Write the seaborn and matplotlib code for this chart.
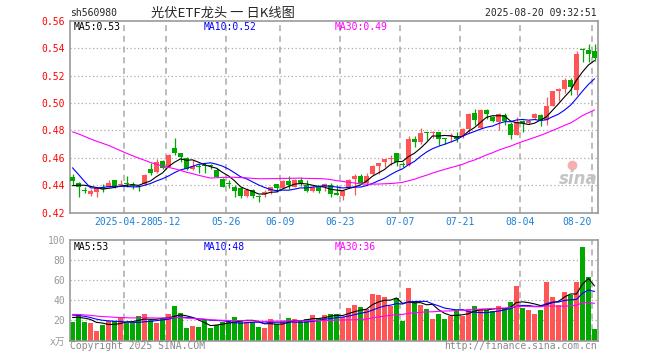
import numpy as np
import pandas as pd
import matplotlib
matplotlib.use("Agg")
import matplotlib.pyplot as plt
import seaborn as sns

# trading days 2025-04-15 .. 2025-08-20 (labour day / dragon boat holidays removed)
holidays = ["2025-05-01", "2025-05-02", "2025-05-05", "2025-06-02"]
dates = pd.bdate_range("2025-04-15", "2025-08-20")
dates = dates[~dates.isin(pd.to_datetime(holidays))]

open_ = [0.4458, 0.4414, 0.4362, 0.4336, 0.4353, 0.4389, 0.4389, 0.4438, 0.4404, 0.4414,
         0.4399, 0.4394, 0.4409, 0.4516, 0.4499, 0.4577, 0.4536, 0.4670, 0.4633, 0.4602,
         0.4519, 0.4540, 0.4545, 0.4545, 0.4511, 0.4443, 0.4414, 0.4389, 0.4382, 0.4321,
         0.4365, 0.4316, 0.4336, 0.4360, 0.4409, 0.4377, 0.4431, 0.4389, 0.4438, 0.4401,
         0.4360, 0.4384, 0.4384, 0.4401, 0.4336, 0.4321, 0.4389, 0.4445, 0.4467, 0.4414,
         0.4482, 0.4541, 0.4572, 0.4592, 0.4633, 0.4553, 0.4548, 0.4738, 0.4712, 0.4785,
         0.4780, 0.4787, 0.4738, 0.4756, 0.4760, 0.4756, 0.4809, 0.4926, 0.4817, 0.4946,
         0.4895, 0.4865, 0.4914, 0.4848, 0.4768, 0.4870, 0.4851, 0.4890, 0.4914, 0.4878,
         0.4980, 0.5085, 0.5105, 0.5171, 0.5097, 0.5390, 0.5386, 0.5383]
high = [0.4480, 0.4426, 0.4389, 0.4370, 0.4389, 0.4409, 0.4438, 0.4440, 0.4438, 0.4467,
        0.4421, 0.4404, 0.4482, 0.4560, 0.4590, 0.4585, 0.4626, 0.4743, 0.4638, 0.4609,
        0.4585, 0.4555, 0.4565, 0.4555, 0.4524, 0.4453, 0.4438, 0.4401, 0.4389, 0.4377,
        0.4370, 0.4328, 0.4365, 0.4389, 0.4409, 0.4438, 0.4467, 0.4443, 0.4458, 0.4438,
        0.4392, 0.4389, 0.4419, 0.4419, 0.4401, 0.4365, 0.4443, 0.4482, 0.4482, 0.4487,
        0.4548, 0.4565, 0.4592, 0.4621, 0.4638, 0.4572, 0.4760, 0.4760, 0.4817, 0.4792,
        0.4797, 0.4792, 0.4743, 0.4780, 0.4785, 0.4817, 0.4926, 0.4956, 0.4956, 0.4956,
        0.4907, 0.4927, 0.4927, 0.4861, 0.4897, 0.4875, 0.4878, 0.4924, 0.4919, 0.5041,
        0.5090, 0.5110, 0.5183, 0.5183, 0.5378, 0.5403, 0.5432, 0.5432]
low = [0.4400, 0.4316, 0.4341, 0.4323, 0.4316, 0.4353, 0.4385, 0.4377, 0.4395, 0.4389,
       0.4370, 0.4360, 0.4401, 0.4475, 0.4492, 0.4519, 0.4531, 0.4621, 0.4572, 0.4511,
       0.4511, 0.4492, 0.4487, 0.4516, 0.4458, 0.4384, 0.4377, 0.4316, 0.4304, 0.4316,
       0.4304, 0.4280, 0.4311, 0.4336, 0.4353, 0.4370, 0.4370, 0.4384, 0.4394, 0.4353,
       0.4353, 0.4345, 0.4360, 0.4316, 0.4328, 0.4292, 0.4384, 0.4328, 0.4409, 0.4401,
       0.4475, 0.4482, 0.4536, 0.4548, 0.4541, 0.4536, 0.4541, 0.4677, 0.4702, 0.4731,
       0.4743, 0.4694, 0.4702, 0.4719, 0.4712, 0.4743, 0.4780, 0.4841, 0.4809, 0.4883,
       0.4861, 0.4804, 0.4841, 0.4736, 0.4763, 0.4787, 0.4846, 0.4883, 0.4836, 0.4841,
       0.4975, 0.5012, 0.5073, 0.5061, 0.5056, 0.5300, 0.5300, 0.5305]
close = [0.4429, 0.4389, 0.4358, 0.4360, 0.4377, 0.4370, 0.4419, 0.4389, 0.4409, 0.4409,
         0.4394, 0.4389, 0.4475, 0.4487, 0.4568, 0.4528, 0.4621, 0.4633, 0.4609, 0.4519,
         0.4543, 0.4535, 0.4538, 0.4540, 0.4463, 0.4389, 0.4409, 0.4360, 0.4321, 0.4365,
         0.4321, 0.4311, 0.4353, 0.4389, 0.4377, 0.4431, 0.4401, 0.4438, 0.4414, 0.4360,
         0.4384, 0.4360, 0.4409, 0.4336, 0.4331, 0.4360, 0.4438, 0.4467, 0.4414, 0.4467,
         0.4541, 0.4560, 0.4589, 0.4597, 0.4572, 0.4548, 0.4738, 0.4712, 0.4780, 0.4780,
         0.4787, 0.4736, 0.4734, 0.4763, 0.4736, 0.4812, 0.4922, 0.4873, 0.4951, 0.4922,
         0.4870, 0.4919, 0.4870, 0.4763, 0.4861, 0.4851, 0.4870, 0.4919, 0.4878, 0.4980,
         0.5090, 0.5105, 0.5171, 0.5115, 0.5361, 0.5388, 0.5359, 0.5329]
# volume in 万手
volume = [18.6, 26.0, 18.6, 17.6, 9.3, 15.3, 19.0, 19.0, 22.0, 17.0,
          17.0, 24.6, 26.3, 20.3, 17.6, 22.0, 26.3, 34.3, 27.6, 12.6,
          14.3, 13.6, 21.0, 12.6, 15.3, 18.6, 19.3, 23.6, 20.3, 18.6,
          18.6, 13.6, 12.0, 21.0, 16.0, 19.3, 22.0, 21.0, 19.3, 21.0,
          25.3, 22.6, 25.3, 26.3, 26.3, 23.6, 32.0, 35.3, 33.6, 31.3,
          46.3, 45.3, 43.6, 34.3, 42.0, 19.3, 52.6, 39.3, 35.3, 31.3,
          21.3, 26.3, 21.3, 24.6, 31.3, 24.6, 31.3, 34.3, 31.3, 30.3,
          29.3, 34.3, 32.6, 38.6, 54.3, 32.6, 30.3, 26.3, 30.3, 58.6,
          43.6, 35.3, 48.6, 45.3, 58.6, 92.6, 63.6, 11.3]

# estimated closes / volumes before the window, only used to start the moving averages
pre_close = [0.485, 0.489, 0.492, 0.487, 0.483, 0.489, 0.495, 0.500, 0.497, 0.493,
             0.491, 0.495, 0.499, 0.496, 0.492, 0.490, 0.494, 0.497, 0.491, 0.487,
             0.488, 0.486, 0.483, 0.440, 0.432, 0.437, 0.436, 0.440, 0.442]
pre_vol = [30, 31, 29, 32, 30, 28, 31, 30, 22, 24, 21, 23, 25, 22, 24, 26, 23, 25, 27,
           24, 29, 27, 30, 26, 26, 25, 23, 24, 24]

tick_days = ["2025-04-28", "2025-05-12", "2025-05-26", "2025-06-09", "2025-06-23",
             "2025-07-07", "2025-07-21", "2025-08-04", "2025-08-20"]
tick_labels = ["2025-04-28", "05-12", "05-26", "06-09", "06-23",
               "07-07", "07-21", "08-04", "08-20"]
price_ticks = [0.42, 0.44, 0.46, 0.48, 0.50, 0.52, 0.54, 0.56]
vol_ticks = [0, 20, 40, 60, 80, 100]
vol_tick_labels = ["x万", "20", "40", "60", "80", "100"]

RED = "#ff5555"
GREEN = "#00a800"
GRID = "#aaaaaa"
MA_COLORS = {5: "black", 10: "#0000ff", 30: "#ff00ff"}

sns.set_style("white")
plt.rcParams["font.family"] = ["DejaVu Sans Mono", "Noto Sans CJK SC"]

x = np.arange(len(close))
o, h, l, c = map(np.array, (open_, high, low, close))
up = c >= o
colors = np.where(up, RED, GREEN)


def moving_avgs(pre, values):
    s = pd.Series(list(pre) + list(values), dtype=float)
    return {n: s.rolling(n).mean().to_numpy()[len(pre):] for n in (5, 10, 30)}


ma_price = moving_avgs(pre_close, close)
ma_vol = moving_avgs(pre_vol, volume)

fig = plt.figure(figsize=(6.6, 3.6), dpi=100)
W, H = 660, 360
ax = fig.add_axes([69.5 / W, 1 - 212.5 / H, 528 / W, 191.5 / H])
axv = fig.add_axes([69.5 / W, 1 - 340.5 / H, 528 / W, 100.5 / H])

tick_x = [dates.get_loc(pd.Timestamp(d)) - 0.4 for d in tick_days]

for a in (ax, axv):
    a.set_xlim(-0.5, len(x) - 0.5)
    for s in a.spines.values():
        s.set_color("#999999")
        s.set_linewidth(1.2)
    for tx in tick_x:
        a.axvline(tx, color=GRID, lw=1.1, ls=(0, (4, 3)), zorder=0)

# price panel
for p in price_ticks[1:-1]:
    ax.axhline(p, color=GRID, lw=0.9, ls=(0, (1, 2)), zorder=0)
body_low = np.minimum(o, c)
body_h = np.maximum(np.abs(c - o), 0.0008)
ax.vlines(x, l, h, colors=colors, lw=0.9, zorder=2)
ax.bar(x, body_h, bottom=body_low, width=0.82, color=colors, linewidth=0, zorder=3)
for n in (5, 10, 30):
    sns.lineplot(x=x, y=ma_price[n], color=MA_COLORS[n], lw=0.8, ax=ax, zorder=4)
ax.set_ylim(0.42, 0.56)
ax.set_yticks(price_ticks)
ax.set_yticklabels([f"{p:.2f}" for p in price_ticks], color="#ff0000", fontsize=7)
ax.set_xticks(tick_x)
ax.set_xticklabels(tick_labels, color="#1e7fd6", fontsize=7)
ax.get_xticklabels()[-1].set_horizontalalignment("right")
ax.tick_params(length=0, pad=3)

# volume panel
for v in vol_ticks[1:-1]:
    axv.axhline(v, color=GRID, lw=0.9, ls=(0, (1, 2)), zorder=0)
axv.bar(x, volume, width=0.82, color=colors, linewidth=0, zorder=2)
for n in (5, 10, 30):
    sns.lineplot(x=x, y=ma_vol[n], color=MA_COLORS[n], lw=0.8, ax=axv, zorder=3)
axv.set_ylim(0, 100)
axv.set_yticks(vol_ticks)
axv.set_yticklabels(vol_tick_labels, color="#999999", fontsize=7)
axv.set_xticks([])
axv.tick_params(length=0, pad=3)


def px(xp, yp):
    return xp / W, 1 - yp / H


fig.text(*px(70, 13), "sh560980", fontsize=7, va="center", ha="left")
fig.text(*px(223, 13), "光伏ETF龙头 一 日K线图", fontsize=9.5, va="center", ha="center",
         family=["Noto Sans CJK SC", "DejaVu Sans"])
fig.text(*px(597, 13), "2025-08-20 09:32:51", fontsize=7, va="center", ha="right")

legend_x = [74, 204, 335]
for xp, n, txt in zip(legend_x, (5, 10, 30), ["MA5:0.53", "MA10:0.52", "MA30:0.49"]):
    fig.text(*px(xp, 27), txt, fontsize=7, color=MA_COLORS[n], va="center")
for xp, n, txt in zip(legend_x, (5, 10, 30), ["MA5:53", "MA10:48", "MA30:36"]):
    fig.text(*px(xp, 247), txt, fontsize=7, color=MA_COLORS[n], va="center")

# sina watermark: small logo dot + text
fig.add_artist(plt.Line2D([572 / W], [1 - 165 / H], marker="o", markersize=6,
                          color="#f2b0b0", transform=fig.transFigure))
fig.text(*px(578, 179), "sina", fontsize=12, color="#c4c4c4", style="italic",
         fontweight="bold", ha="center", va="center", family="DejaVu Sans")
fig.text(*px(70, 346), "Copyright 2025 SINA.COM", fontsize=7, color="#888888", va="center")
fig.text(*px(597, 346), "http://finance.sina.com.cn", fontsize=7, color="#888888",
         va="center", ha="right")

fig.savefig("out.png", dpi=100)
